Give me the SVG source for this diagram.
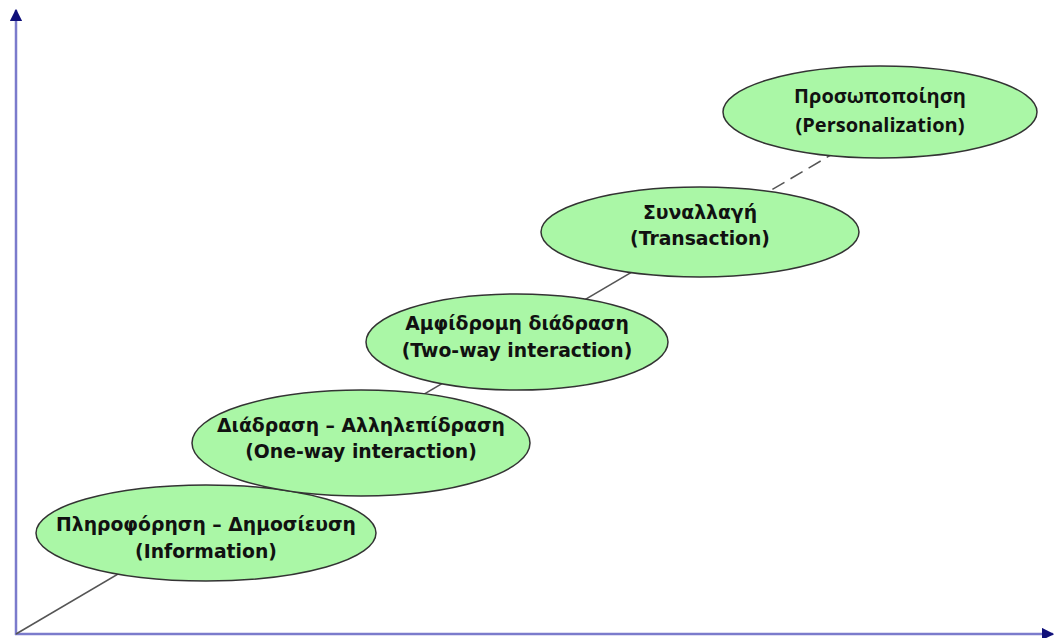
<svg xmlns="http://www.w3.org/2000/svg" width="1055" height="638" viewBox="0 0 1055 638">
  <style>
    .axis { stroke: #7b7bcc; stroke-width: 2.5; fill: none; }
    .path { stroke: #555; stroke-width: 1.5; fill: none; }
    .stage { fill: #aaf7a6; stroke: #333; stroke-width: 1.5; }
    .lbl { font-family: "DejaVu Sans", Verdana, sans-serif; font-weight: bold; font-size: 18.8px; fill: #111; text-anchor: middle; }
    .lbl2 { font-family: "Open Sans", "Liberation Sans", sans-serif; font-weight: bold; font-size: 20px; fill: #111; text-anchor: middle; }
  </style>
  <defs>
    <marker id="head" viewBox="0 0 10 10" refX="9" refY="5" markerWidth="5" markerHeight="5" orient="auto">
      <path d="M0,0 L10,5 L0,10 Z" fill="#10107a"/>
    </marker>
  </defs>
  <rect width="1055" height="638" fill="#fff"/>

  <!-- axes and progression line -->
  <g id="connectors">
    <line class="axis" x1="16" y1="635" x2="16" y2="10" marker-end="url(#head)"/>
    <line class="axis" x1="15" y1="634" x2="1053" y2="634" marker-end="url(#head)"/>
    <line class="path" x1="16" y1="634" x2="700" y2="232"/>
    <line class="path" x1="700" y1="232" x2="836" y2="152" stroke-dasharray="14,7"/>
  </g>

  <g id="information">
    <ellipse class="stage" cx="206" cy="533" rx="170" ry="48"/>
    <text class="lbl" x="206" y="531">Πληροφόρηση – Δημοσίευση</text>
    <text class="lbl" x="206" y="558">(Information)</text>
  </g>
  <g id="one-way">
    <ellipse class="stage" cx="361" cy="443" rx="169" ry="53"/>
    <text class="lbl" x="361" y="432">Διάδραση – Αλληλεπίδραση</text>
    <text class="lbl" x="361" y="458">(One-way interaction)</text>
  </g>
  <g id="two-way">
    <ellipse class="stage" cx="517" cy="342" rx="151" ry="48"/>
    <text class="lbl" x="517" y="330">Αμφίδρομη διάδραση</text>
    <text class="lbl" x="517" y="357">(Two-way interaction)</text>
  </g>
  <g id="transaction">
    <ellipse class="stage" cx="700" cy="232" rx="159" ry="45"/>
    <text class="lbl" x="700" y="219">Συναλλαγή</text>
    <text class="lbl" x="700" y="245">(Transaction)</text>
  </g>
  <g id="personalization">
    <ellipse class="stage" cx="880" cy="112" rx="157" ry="46"/>
    <text class="lbl2" x="880" y="103">Προσωποποίηση</text>
    <text class="lbl2" x="880" y="132">(Personalization)</text>
  </g>
</svg>
